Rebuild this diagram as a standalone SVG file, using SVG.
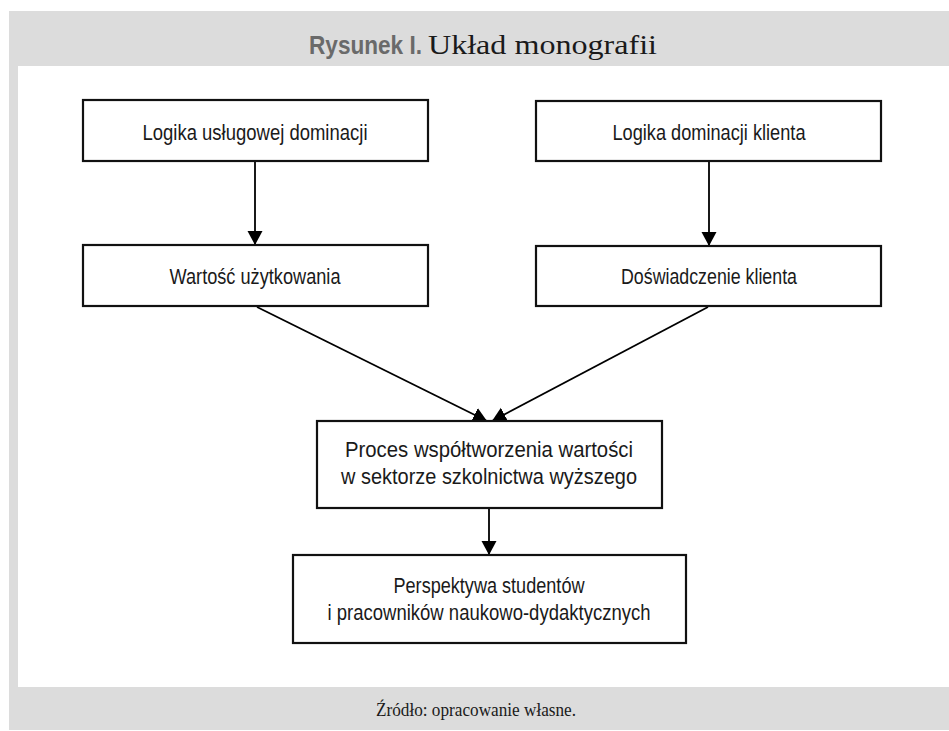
<svg xmlns="http://www.w3.org/2000/svg" width="949" height="731" viewBox="0 0 949 731">
  <style>
    .box { fill: #ffffff; stroke: #111111; stroke-width: 2.2; }
    .lbl { font-family: "Liberation Sans Narrow", "Liberation Sans", Arial, sans-serif; font-size: 21.5px; fill: #1a1a1a; text-anchor: middle; }
    .conn { stroke: #000000; stroke-width: 1.8; fill: none; marker-end: url(#arrow); }
    .serif { font-family: "Palatino Linotype", "Book Antiqua", "Liberation Serif", "DejaVu Serif", serif; fill: #1a1a1a; }
  </style>
  <defs>
    <marker id="arrow" markerUnits="userSpaceOnUse" markerWidth="15" markerHeight="16" refX="14" refY="7.5" orient="auto" viewBox="0 0 15 15">
      <path d="M0,0 L14,7.5 L0,15 Z" fill="#000000"/>
    </marker>
  </defs>

  <g id="frame">
    <rect x="9" y="11" width="940" height="719" fill="#dcdcdc"/>
    <rect x="18" y="66" width="931" height="621" fill="#ffffff"/>
  </g>

  <g id="title">
    <text x="309" y="54" font-family="'Liberation Sans Narrow', 'Liberation Sans', Arial, sans-serif" font-weight="bold" font-size="26" fill="#6a6a6a" textLength="113" lengthAdjust="spacingAndGlyphs">Rysunek I.</text>
    <text x="428" y="54" class="serif" font-size="27" textLength="229" lengthAdjust="spacingAndGlyphs">Układ monografii</text>
  </g>

  <g id="connectors">
    <line class="conn" x1="255" y1="162" x2="255" y2="245"/>
    <line class="conn" x1="709" y1="162" x2="709" y2="246"/>
    <line class="conn" x1="257" y1="307" x2="487" y2="421"/>
    <line class="conn" x1="708" y1="307" x2="492" y2="421"/>
    <line class="conn" x1="489" y1="509" x2="489" y2="555"/>
  </g>

  <g id="n1">
    <rect class="box" x="83" y="100" width="345" height="61"/>
    <text class="lbl" x="255" y="140" textLength="225" lengthAdjust="spacingAndGlyphs">Logika usługowej dominacji</text>
  </g>
  <g id="n2">
    <rect class="box" x="536" y="101" width="345" height="60"/>
    <text class="lbl" x="709" y="140" textLength="193" lengthAdjust="spacingAndGlyphs">Logika dominacji klienta</text>
  </g>
  <g id="n3">
    <rect class="box" x="83" y="245" width="345" height="61"/>
    <text class="lbl" x="255" y="284" textLength="171" lengthAdjust="spacingAndGlyphs">Wartość użytkowania</text>
  </g>
  <g id="n4">
    <rect class="box" x="536" y="246" width="345" height="60"/>
    <text class="lbl" x="709" y="284" textLength="176" lengthAdjust="spacingAndGlyphs">Doświadczenie klienta</text>
  </g>
  <g id="n5">
    <rect class="box" x="317" y="421" width="345" height="87"/>
    <text class="lbl" x="489" y="457" textLength="288" lengthAdjust="spacingAndGlyphs">Proces współtworzenia wartości</text>
    <text class="lbl" x="489" y="484" textLength="296" lengthAdjust="spacingAndGlyphs">w sektorze szkolnictwa wyższego</text>
  </g>
  <g id="n6">
    <rect class="box" x="293" y="555" width="393" height="88"/>
    <text class="lbl" x="489" y="593" textLength="191" lengthAdjust="spacingAndGlyphs">Perspektywa studentów</text>
    <text class="lbl" x="489" y="620" textLength="323" lengthAdjust="spacingAndGlyphs">i pracowników naukowo-dydaktycznych</text>
  </g>

  <g id="footer">
    <text x="476" y="716" class="serif" font-size="19" text-anchor="middle" textLength="200" lengthAdjust="spacingAndGlyphs">Źródło: opracowanie własne.</text>
  </g>
</svg>
